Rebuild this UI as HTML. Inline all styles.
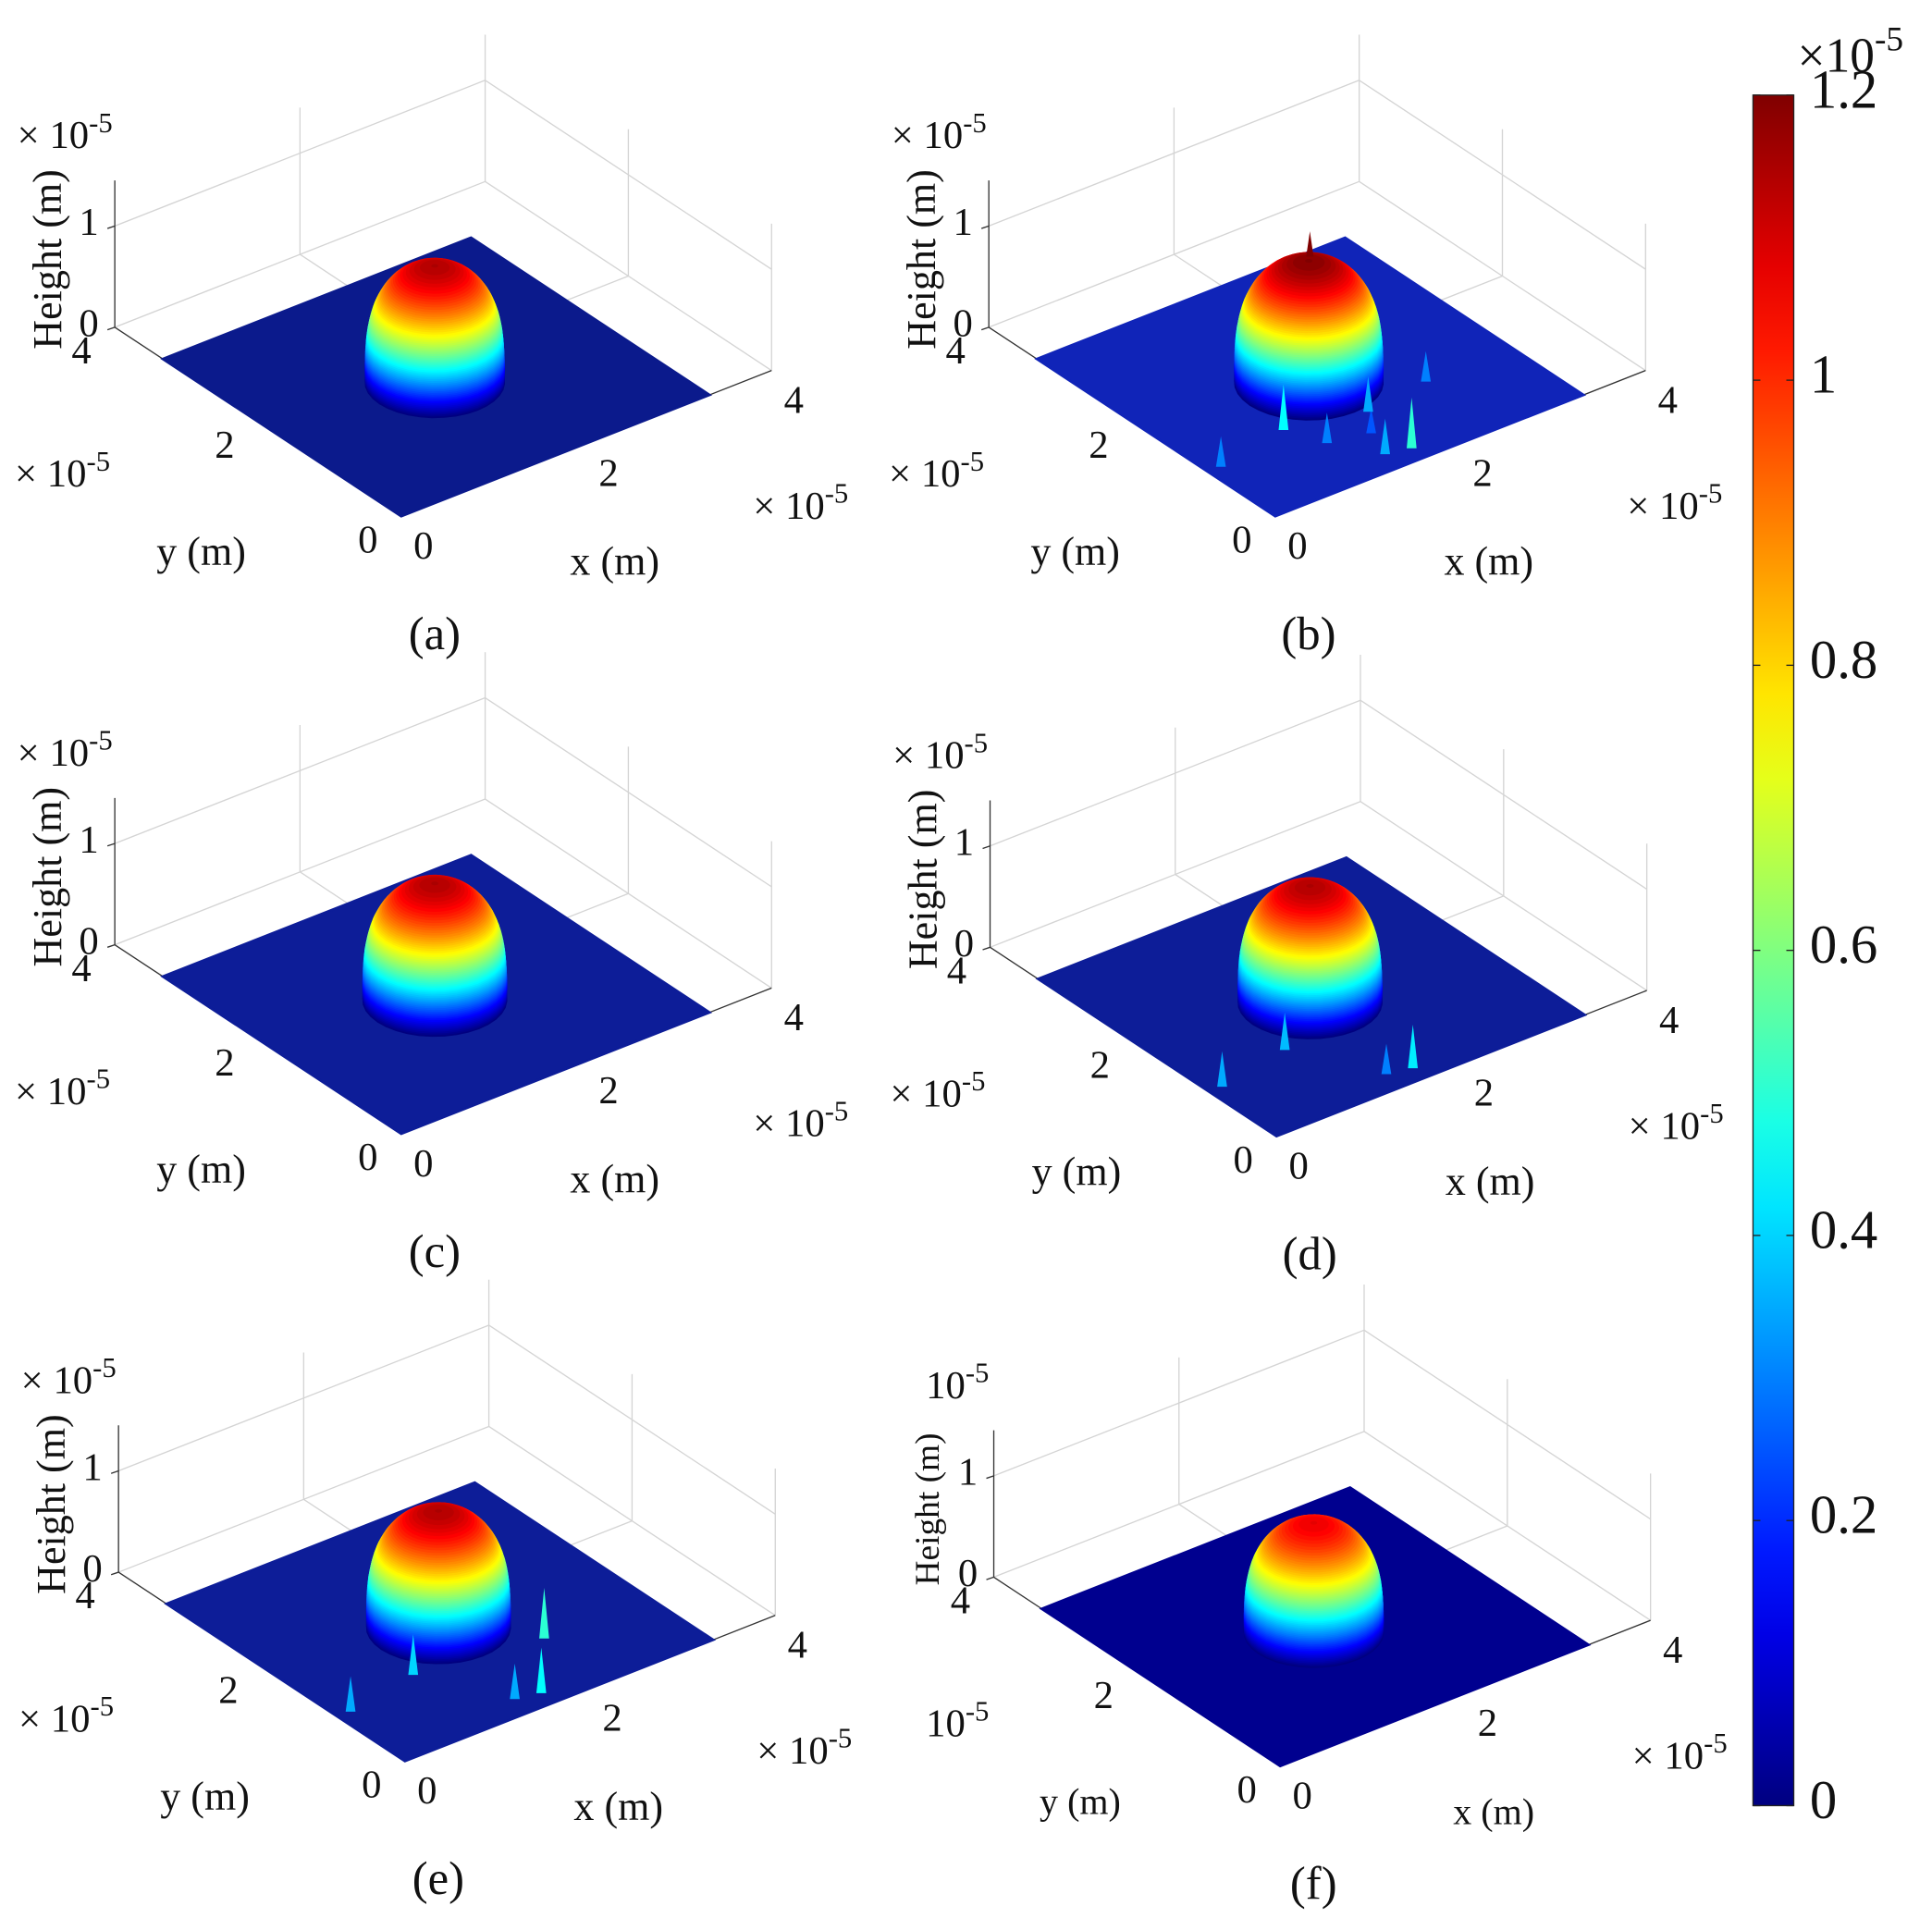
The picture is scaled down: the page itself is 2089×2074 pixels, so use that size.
<!DOCTYPE html>
<html><head><meta charset="utf-8"><style>
html,body{margin:0;padding:0;background:#fff;}
svg{display:block;font-family:"Liberation Serif",serif;}
text{font-family:"Liberation Serif",serif;}
</style></head><body>
<svg id="fig" width="2089" height="2074" viewBox="0 0 1565 1553" preserveAspectRatio="none" xmlns="http://www.w3.org/2000/svg"></svg>
<script>
// ---- data ----
const panelLabels = ["(a)","(b)","(c)","(d)","(e)","(f)"];
const domeHeights = [1.15, 1.2, 1.15, 1.15, 1.15, 1.08];   // ×1e-5 m
const domeRadius  = [0.6, 0.64, 0.62, 0.62, 0.62, 0.6];  // ×1e-5 m
const domeCenter  = [1.6, 1.6];
const floorExtent = 3.33;
const floorColors = ["#0b1a8c","#1024b8","#0d1d98","#0d1d98","#0d1d98","#00008f"];
// spikes per panel: [x, y, height] (×1e-5)
const spikesA = [];
const spikesB = [[1.38,0.25,0.35],[1.62,0.19,0.5],[0.94,1.1,0.45],[0.14,0.94,0.3],[1.5,0.6,0.25],[1.1,0.7,0.3],[1.7,0.9,0.35],[2.4,1.0,0.3]];
const spikesC = [];
const spikesD = [[1.38,0.25,0.3],[1.62,0.19,0.43],[0.94,1.1,0.37],[0.14,0.94,0.35]];
const spikesE = [[1.38,0.25,0.35],[1.62,0.19,0.45],[0.94,1.1,0.4],[0.14,0.94,0.35],[2.2,0.9,0.5]];
const spikesF = [];
const spikes = [spikesA,spikesB,spikesC,spikesD,spikesE,spikesF];
const xTicks = [0,2,4];
const yTicks = [0,2,4];
const zTicks = [0,1];
const cbTicks = [0,0.2,0.4,0.6,0.8,1,1.2];
const cbTickLabels = ["0","0.2","0.4","0.6","0.8","1","1.2"];
const offsets = [[0,0],[708,0],[0,500],[709,502],[3,1008],[712,1012]];
const zTop = 1.45;

const NS="http://www.w3.org/2000/svg";
const svg=document.getElementById('fig');
function mk(tag,attrs,parent){const e=document.createElementNS(NS,tag);for(const k in attrs)e.setAttribute(k,attrs[k]);(parent||svg).appendChild(e);return e;}
function jet(v){v=Math.max(0,Math.min(1,v));
 const r=Math.max(0,Math.min(1,1.5-Math.abs(4*v-3))),g=Math.max(0,Math.min(1,1.5-Math.abs(4*v-2))),b=Math.max(0,Math.min(1,1.5-Math.abs(4*v-1)));
 return `rgb(${Math.round(r*255)},${Math.round(g*255)},${Math.round(b*255)})`;}

panelLabels.forEach((lab,i)=>{
 const [ox,oy]=offsets[i];
 const g=mk('g',{});
 
 
 const P=(x,y,z)=>[ox+325+75*x-58*y, oy+418-29.5*x-38.25*y-82*z];
 const line=(a,b,st,w)=>mk('line',{x1:a[0],y1:a[1],x2:b[0],y2:b[1],stroke:st,'stroke-width':w||1},g);
 const grey="#d4d4d4";
 // walls & grid
 line(P(4,4,0),P(4,4,zTop),grey);line(P(4,0,0),P(4,0,zTop),grey);
 line(P(0,4,1),P(4,4,1),grey);line(P(4,4,1),P(4,0,1),grey);
 line(P(2,4,0),P(2,4,zTop),grey);line(P(4,2,0),P(4,2,zTop),grey);
 line(P(0,4,0),P(4,4,0),grey);line(P(4,4,0),P(4,0,0),grey);
 line(P(2,0,0),P(2,4,0),grey);line(P(0,2,0),P(4,2,0),grey);
 // axes
 line(P(0,4,0),P(0,4,zTop),"#333");
 line(P(0,4,0),P(0,0,0),"#333");line(P(0,0,0),P(4,0,0),"#333");
 // floor
 const fc=[P(0,0,0),P(floorExtent,0,0),P(floorExtent,floorExtent,0),P(0,floorExtent,0)];
 const fl=mk('polygon',{points:fc.map(p=>p.join(',')).join(' '),fill:floorColors[i],stroke:floorColors[i],'stroke-width':2},g);
 
 
 const H=domeHeights[i],R=domeRadius[i];
 const drawSpike=(s)=>{const b=P(s[0],s[1],0),t=P(s[0],s[1],s[2]);
  const sp=mk('polygon',{points:`${b[0]-4},${b[1]} ${t[0]},${t[1]} ${b[0]+4},${b[1]}`,fill:jet(s[2]/1.2)},g);
  
  };
 // dome
 const dome=mk('g',{},g);
 
 
 const N=70;
 for(let k=0;k<=N;k++){
  const h=H*k/N;
  const q=h/H;
  let r=R*Math.sqrt(Math.max(0,1-Math.pow(q,3.2)));
  if(k===N) r=R*0.05;
  const pts=[];
  for(let a=0;a<36;a++){const t=a/36*2*Math.PI;pts.push(P(domeCenter[0]+r*Math.cos(t),domeCenter[1]+r*Math.sin(t),h).map(v=>v.toFixed(1)).join(','));}
  mk('polygon',{points:pts.join(' '),fill:jet(h/1.2)},dome);
 }
 spikes[i].forEach(drawSpike);
 if(i===1){const b=P(domeCenter[0]+0.05,domeCenter[1]+0.05,H),t=P(domeCenter[0]+0.05,domeCenter[1]+0.05,H+0.25);
  mk('polygon',{points:`${b[0]-3},${b[1]} ${t[0]},${t[1]} ${b[0]+3},${b[1]}`,fill:jet(1)},g);}
 // tick labels
 const txt=(x,y,s,fs,extra)=>{const e=mk('text',Object.assign({x:x,y:y,'font-size':fs||32,'text-anchor':'middle','dominant-baseline':'middle',fill:'#111'},extra||{}),g);e.textContent=s;return e;};
 const isF=i===5;
 zTicks.forEach(z=>{const p=P(0,4,z);line(p,[p[0]-6,p[1]+2],"#333");const t=txt(p[0]-21,p[1],String(z));});
 yTicks.forEach(y=>{const p=P(0,y,0);const t=txt(p[0]-27,p[1]+22,String(y));});
 xTicks.forEach(x=>{const p=P(x,0,0);const t=txt(p[0]+18,p[1]+27,String(x));});
 const exp=(x,y,pre)=>{const e=mk('text',{x:x,y:y,'font-size':32,fill:'#111'},g);e.textContent=pre+'10';const s=mk('tspan',{'font-size':23,dy:-13},e);s.textContent='-5';return e;};
 const e1=exp(ox+(isF?750-712:14),oy+120,isF?'':'× ');
 const e2=exp(ox+(isF?750-712:12),oy+394,isF?'':'× ');
 const e3=exp(ox+610,oy+420,'× ');
 const yl=txt(ox+163,oy+450,'y (m)',isF?30:33);
 const xl=txt(ox+498,oy+458,'x (m)',isF?30:33);
 const hl=txt(ox+42,oy+210,'Height (m)',isF?28:33,{transform:`rotate(-90 ${ox+42} ${oy+210})`});
 
 const pl=txt(ox+352,oy+517,lab,38);
 
});

// colorbar
const cb=mk('g',{});


const cbX=1420,cbW=33,cbTop=77,cbBot=1462,cbMax=1.2;
const defs=mk('defs',{},cb);
const lg=mk('linearGradient',{id:'jetg',x1:0,y1:1,x2:0,y2:0},defs);
for(let k=0;k<=20;k++)mk('stop',{offset:k/20,'stop-color':jet(k/20)},lg);
mk('rect',{x:cbX,y:cbTop,width:cbW,height:cbBot-cbTop,fill:'url(#jetg)',stroke:'#222','stroke-width':1},cb);
const cy=v=>cbBot-(v/cbMax)*(cbBot-cbTop);
cbTicks.forEach((v,k)=>{
 mk('line',{x1:cbX,y1:cy(v),x2:cbX+6,y2:cy(v),stroke:'#222'},cb);
 mk('line',{x1:cbX+cbW-6,y1:cy(v),x2:cbX+cbW,y2:cy(v),stroke:'#222'},cb);
 const t=mk('text',{x:cbX+46,y:cy(v),'font-size':44,'dominant-baseline':'middle',fill:'#111'},cb);
 
 
 t.textContent=cbTickLabels[k];
});
const ce=mk('text',{x:1456,y:58,'font-size':40,fill:'#111'},cb);


ce.textContent='×10';const cs=mk('tspan',{'font-size':28,dy:-17},ce);cs.textContent='-5';
</script>
</body></html>
